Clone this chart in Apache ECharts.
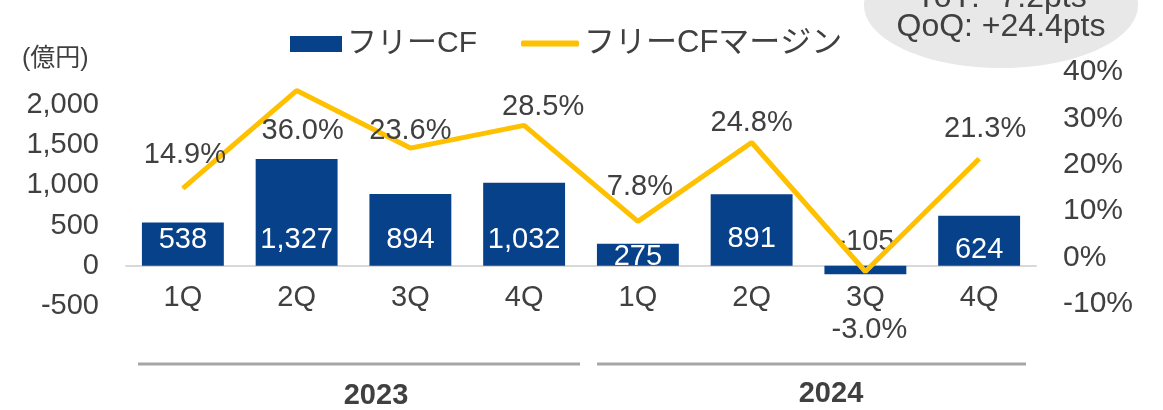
<!DOCTYPE html>
<html>
<head>
<meta charset="utf-8">
<script src="https://cdn.jsdelivr.net/npm/echarts@6/dist/echarts.min.js"></script>
<style>
  html, body { margin: 0; padding: 0; background: #fff; }
  #main { width: 1163px; height: 410px; }
</style>
</head>
<body>
<div id="main"></div>
<script>
// データ
var quarters = ['1Q', '2Q', '3Q', '4Q', '1Q', '2Q', '3Q', '4Q'];
var years = ['2023', '2024'];
var freeCF = [538, 1327, 894, 1032, 275, 891, -105, 624];
var cfMargin = [14.9, 36.0, 23.6, 28.5, 7.8, 24.8, -3.0, 21.3];
var leftTicks = [-500, 2000, 500];   // min, max, interval
var rightTicks = [-10, 40, 10];
var noteLines = ['YoY: -7.2pts', 'QoQ: +24.4pts'];

var FONT = '"Liberation Sans", Arial, "Noto Sans CJK JP", sans-serif';
var TXT = '#404040';
var BLUE = '#07418A';
var GOLD = '#FFC000';

// ラベルの位置 (折れ線)
var marginLabelPos = ['top', 'bottom', 'top', 'top', 'top', 'top', 'bottom', 'top'];
var marginLabelDist = [18, 25, 2, 3, 19, 5, 43, 15];
var marginLabelDx = [2, 6, 0, 19, 2, 0, 4, 6];
// ラベルの位置 (棒)
var barLabelDist = [11, 11, 11, 11, -6, 12, 9, 1];

function fmt(v) {
    return v.toLocaleString('en-US');
}

var chart = echarts.init(document.getElementById('main'));

var barData = freeCF.map(function (v, i) {
    var neg = v < 0;
    return {
        value: v,
        label: {
            show: true,
            position: neg ? 'top' : 'insideBottom',
            distance: barLabelDist[i],
            color: neg ? TXT : '#fff'
        }
    };
});

var lineData = cfMargin.map(function (v, i) {
    return {
        value: v,
        label: {
            show: true,
            position: marginLabelPos[i],
            distance: marginLabelDist[i],
            offset: [marginLabelDx[i], 0]
        }
    };
});

var legendText = { fontSize: 30, color: TXT, fontFamily: FONT };

var option = {
    animation: false,
    textStyle: { fontFamily: FONT },
    legend: [
        {
            left: 285,
            top: 24,
            itemWidth: 52,
            itemHeight: 16,
            itemGap: 4,
            textStyle: legendText,
            data: [{ name: 'フリーCF', icon: 'rect' }]
        },
        {
            left: 516,
            top: 23,
            itemWidth: 58,
            itemHeight: 6,
            textStyle: { fontSize: 31, color: TXT, fontFamily: FONT },
            data: [{ name: 'フリーCFマージン', icon: 'roundRect' }]
        }
    ],
    grid: [
        { left: 126, right: 127, top: 105, bottom: 104 },
        { left: 126, right: 127, top: 72, bottom: 106 }
    ],
    xAxis: [
        {
            type: 'category',
            gridIndex: 0,
            data: quarters,
            axisTick: { show: false },
            axisLine: { onZero: true, lineStyle: { color: '#d9d9d9', width: 2 } },
            axisLabel: { color: TXT, fontSize: 29, margin: -23, fontFamily: FONT }
        },
        {
            type: 'category',
            gridIndex: 1,
            data: quarters,
            show: false
        }
    ],
    yAxis: [
        {
            type: 'value',
            gridIndex: 0,
            min: leftTicks[0],
            max: leftTicks[1],
            interval: leftTicks[2],
            splitLine: { show: false },
            axisLine: { show: false },
            axisTick: { show: false },
            axisLabel: {
                color: TXT, fontSize: 29, margin: 27, fontFamily: FONT,
                formatter: function (v) { return fmt(v); }
            }
        },
        {
            type: 'value',
            gridIndex: 1,
            position: 'right',
            min: rightTicks[0],
            max: rightTicks[1],
            interval: rightTicks[2],
            splitLine: { show: false },
            axisLine: { show: false },
            axisTick: { show: false },
            axisLabel: {
                color: TXT, fontSize: 30, margin: 27, fontFamily: FONT,
                formatter: '{value}%'
            }
        }
    ],
    series: [
        {
            name: 'フリーCF',
            type: 'bar',
            xAxisIndex: 0,
            yAxisIndex: 0,
            barWidth: '72%',
            itemStyle: { color: BLUE },
            label: {
                fontSize: 29,
                fontFamily: FONT,
                formatter: function (p) { return fmt(p.value); }
            },
            data: barData
        },
        {
            name: 'フリーCFマージン',
            type: 'line',
            xAxisIndex: 1,
            yAxisIndex: 1,
            symbol: 'circle',
            symbolSize: 1,
            showSymbol: true,
            lineStyle: { color: GOLD, width: 5 },
            itemStyle: { color: GOLD },
            label: {
                color: TXT,
                fontSize: 29,
                fontFamily: FONT,
                formatter: function (p) { return p.value.toFixed(1) + '%'; }
            },
            data: lineData
        }
    ],
    graphic: [
        {
            type: 'text',
            left: 22,
            top: 47,
            style: { text: '(億円)', fill: TXT, font: '25px ' + FONT }
        },
        {
            type: 'ellipse',
            shape: { cx: 1001, cy: 5, rx: 137, ry: 63 },
            style: { fill: '#e8e8e8' },
            z: -1
        },
        {
            type: 'text',
            x: 1001,
            y: 42,
            style: {
                text: noteLines.join('\n'),
                fill: TXT,
                font: '32px ' + FONT,
                lineHeight: 29,
                align: 'center',
                verticalAlign: 'bottom'
            }
        },
        {
            type: 'line',
            shape: { x1: 138, y1: 364, x2: 580, y2: 364 },
            style: { stroke: '#a6a6a6', lineWidth: 3 }
        },
        {
            type: 'line',
            shape: { x1: 597, y1: 364, x2: 1026, y2: 364 },
            style: { stroke: '#a6a6a6', lineWidth: 3 }
        },
        {
            type: 'text',
            x: 376,
            y: 396,
            style: {
                text: years[0], fill: TXT, font: 'bold 29px ' + FONT,
                align: 'center', verticalAlign: 'middle'
            }
        },
        {
            type: 'text',
            x: 831,
            y: 394,
            style: {
                text: years[1], fill: TXT, font: 'bold 29px ' + FONT,
                align: 'center', verticalAlign: 'middle'
            }
        }
    ]
};

chart.setOption(option);
</script>
</body>
</html>
